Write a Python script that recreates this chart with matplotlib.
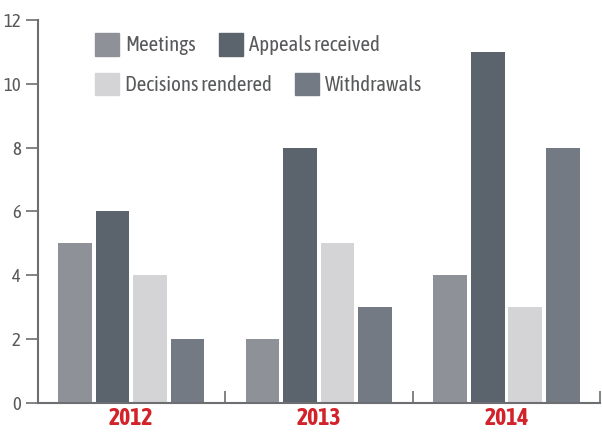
import numpy as np
import matplotlib.pyplot as plt
from matplotlib import font_manager
from matplotlib.patches import Patch

years = ['2012', '2013', '2014']
series_names = ['Meetings', 'Appeals received', 'Decisions rendered', 'Withdrawals']
meetings = [5, 2, 4]
appeals = [6, 8, 11]
decisions = [4, 5, 3]
withdrawals = [2, 3, 8]

colors = ['#8f9199', '#5b636c', '#d4d4d6', '#737a84']
axis_col = '#6d6e71'
red = '#d2232a'

# pick a narrow face that also has a bold cut, the original uses a condensed font
faces = [(f.name, f.weight) for f in font_manager.fontManager.ttflist]
narrow = sorted({n for n, w in faces if ('Narrow' in n or 'Condensed' in n)})
with_bold = [n for n in narrow if any(nn == n and w in ('bold', 700) for nn, w in faces)]
plt.rcParams['font.family'] = (with_bold or narrow)[:1] + ['DejaVu Sans']

fig = plt.figure(figsize = (6.02, 4.32), dpi = 100)
ax = fig.add_axes([0.0623, 0.067, 0.9347, 0.887])

x = np.arange(len(years))
values = [meetings, appeals, decisions, withdrawals]
offsets = [-0.3, -0.1, 0.1, 0.3]
for vals, off, col in zip(values, offsets, colors):
    ax.bar(x + off, vals, width = 0.18, color = col, zorder = 2)

ax.set_xlim(-0.5, 2.5)
ax.set_ylim(0, 12)
ax.set_yticks(range(0, 13, 2))
ax.tick_params(axis = 'y', direction = 'out', length = 9, width = 1.2, color = axis_col, labelcolor = '#58595b', labelsize = 13.5, pad = 3)

# year labels under groups, separator ticks between them
ax.set_xticks(x)
ax.set_xticklabels(years, fontsize = 17, fontweight = 'bold', color = red)
ax.tick_params(axis = 'x', length = 0, pad = 3)
ax.set_xticks([0.5, 1.5, 2.5], minor = True)
ax.tick_params(axis = 'x', which = 'minor', direction = 'in', length = 9, width = 1.2, color = axis_col)

for s in ('top', 'right'):
    ax.spines[s].set_visible(False)
for s in ('left', 'bottom'):
    ax.spines[s].set_color(axis_col)
    ax.spines[s].set_linewidth(1.5)

# legend rows are laid out on their own in the original, so one legend per row
rows = [[0, 1], [2, 3]]
tops = [0.924, 0.832]
for row, top in zip(rows, tops):
    fig.legend([Patch(color = colors[i]) for i in row], [series_names[i] for i in row], ncol = 2,
               loc = 'upper left', bbox_to_anchor = (0.158, top), frameon = False, fontsize = 15,
               labelcolor = '#58595b', handlelength = 1.15, handleheight = 1.3, handletextpad = 0.3,
               columnspacing = 1.1, borderpad = 0, borderaxespad = 0)

fig.savefig('out.png', dpi = 100)
